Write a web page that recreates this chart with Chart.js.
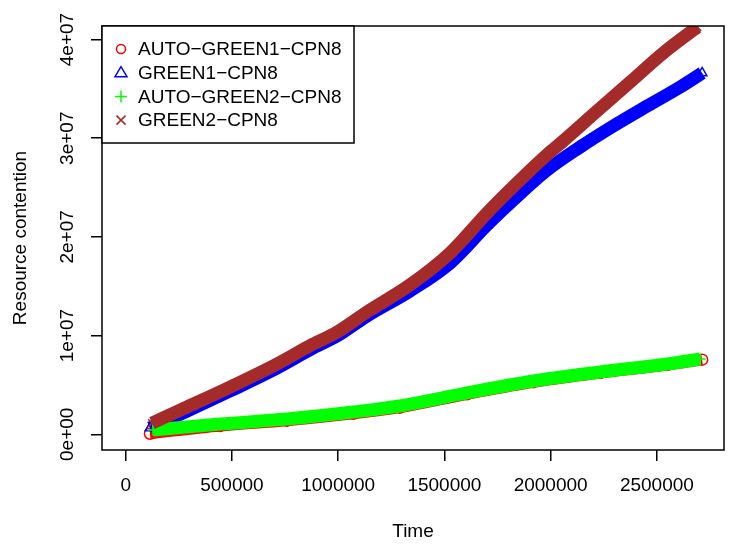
<!DOCTYPE html>
<html>
<head>
<meta charset="utf-8">
<script src="https://cdn.jsdelivr.net/npm/chart.js@4.4.1/dist/chart.umd.min.js"></script>
<style>
html, body { margin: 0; padding: 0; background: #fff; }
</style>
</head>
<body>
<canvas id="chart" width="733" height="547"></canvas>
<script>
// axis ticks
var xTickValues = [0, 500000, 1000000, 1500000, 2000000, 2500000];
var xTickLabels = ["0", "500000", "1000000", "1500000", "2000000", "2500000"];
var yTickValues = [0, 10000000, 20000000, 30000000, 40000000];
var yTickLabels = ["0e+00", "1e+07", "2e+07", "3e+07", "4e+07"];

// AUTO-GREEN1-CPN8 (red circles)
var auto1Time = [114000, 444000, 759000, 1070000, 1291000, 1607000, 1918000, 2233000, 2548000, 2713000];
var auto1Value = [60000, 840000, 1380000, 2080000, 2700000, 4050000, 5280000, 6200000, 7020000, 7560000];

// GREEN1-CPN8 (blue triangles)
var green1Time = [114000, 289000, 491000, 694000, 882000, 995000, 1136000, 1338000, 1527000, 1701000,
                  1824000, 1984000, 2139000, 2295000, 2455000, 2610000, 2713000];
var green1Value = [640000, 2360000, 4390000, 6510000, 8740000, 9960000, 11990000, 14520000, 17360000, 21210000,
                   23740000, 26780000, 29110000, 31240000, 33270000, 35190000, 36610000];

// AUTO-GREEN2-CPN8 (green pluses)
var auto2Time = [128000, 444000, 759000, 1070000, 1291000, 1607000, 1918000, 2233000, 2548000, 2704000];
var auto2Value = [440000, 1040000, 1550000, 2260000, 2870000, 4190000, 5400000, 6310000, 7120000, 7630000];

// GREEN2-CPN8 (brown crosses)
var green2Time = [124000, 289000, 491000, 694000, 882000, 995000, 1136000, 1338000, 1527000, 1701000,
                  1857000, 1998000, 2059000, 2219000, 2375000, 2530000, 2690000];
var green2Value = [1140000, 2770000, 4790000, 6920000, 9140000, 10360000, 12400000, 15140000, 18380000, 22430000,
                   25780000, 28610000, 29720000, 32760000, 35700000, 38640000, 41270000];

var FONT = '"Liberation Sans", Arial, Helvetica, sans-serif';

function makeSeries(label, xs, ys, color, style, width, order) {
    var pts = [];
    for (var i = 0; i < xs.length; i++) {
        pts.push({x: xs[i], y: ys[i]});
    }
    return {
        label: label,
        data: pts,
        showLine: true,
        cubicInterpolationMode: 'monotone',
        borderColor: color,
        borderWidth: width,
        borderCapStyle: 'butt',
        borderJoinStyle: 'round',
        pointStyle: style,
        pointRadius: 5.5,
        pointBorderWidth: 1.5,
        pointBorderColor: color,
        pointBackgroundColor: 'rgba(0,0,0,0)',
        order: order,
        clip: 0
    };
}

// box around plot + legend in the top left corner
var framePlugin = {
    id: 'frameAndLegend',
    afterDraw: function(chart) {
        var ctx = chart.ctx;
        var a = chart.chartArea;
        ctx.save();
        ctx.strokeStyle = '#000';
        ctx.lineWidth = 1.5;
        ctx.strokeRect(a.left, a.top, a.right - a.left, a.bottom - a.top);

        var bx = a.left, by = a.top, bw = 252, bh = 117;
        ctx.fillStyle = '#fff';
        ctx.fillRect(bx, by, bw, bh);
        ctx.strokeRect(bx, by, bw, bh);

        var sets = chart.data.datasets;
        ctx.font = '19px ' + FONT;
        ctx.textBaseline = 'middle';
        ctx.textAlign = 'left';
        for (var i = 0; i < sets.length; i++) {
            var cy = by + 23 + i * 23.7;
            var cx = bx + 19;
            var col = sets[i].borderColor;
            ctx.strokeStyle = col;
            ctx.lineWidth = 1.5;
            ctx.beginPath();
            if (sets[i].pointStyle === 'circle') {
                ctx.arc(cx, cy, 4.5, 0, Math.PI * 2);
            } else if (sets[i].pointStyle === 'triangle') {
                ctx.moveTo(cx, cy - 6);
                ctx.lineTo(cx - 6, cy + 4);
                ctx.lineTo(cx + 6, cy + 4);
                ctx.closePath();
            } else if (sets[i].pointStyle === 'cross') {
                ctx.moveTo(cx - 6, cy); ctx.lineTo(cx + 6, cy);
                ctx.moveTo(cx, cy - 6); ctx.lineTo(cx, cy + 6);
            } else {
                ctx.moveTo(cx - 4.5, cy - 4.5); ctx.lineTo(cx + 4.5, cy + 4.5);
                ctx.moveTo(cx - 4.5, cy + 4.5); ctx.lineTo(cx + 4.5, cy - 4.5);
            }
            ctx.stroke();
            ctx.fillStyle = '#000';
            ctx.fillText(sets[i].label, bx + 36, cy + 1);
        }
        ctx.restore();
    }
};

new Chart(document.getElementById('chart'), {
    type: 'scatter',
    data: {
        datasets: [
            makeSeries('AUTO\u2212GREEN1\u2212CPN8', auto1Time, auto1Value, '#FF0000', 'circle', 11, 3),
            makeSeries('GREEN1\u2212CPN8', green1Time, green1Value, '#0000FF', 'triangle', 13, 2),
            makeSeries('AUTO\u2212GREEN2\u2212CPN8', auto2Time, auto2Value, '#00FF00', 'cross', 13, 1),
            makeSeries('GREEN2\u2212CPN8', green2Time, green2Value, '#A52A2A', 'crossRot', 13, 0)
        ]
    },
    options: {
        responsive: false,
        animation: false,
        devicePixelRatio: 1,
        layout: { padding: { top: 26, right: 9, bottom: 0, left: 0 } },
        plugins: {
            legend: { display: false },
            tooltip: { enabled: false }
        },
        scales: {
            x: {
                type: 'linear',
                min: -111600,
                max: 2816000,
                afterBuildTicks: function(scale) {
                    scale.ticks = xTickValues.map(function(v) { return {value: v}; });
                },
                afterFit: function(scale) { scale.height = 97; },
                border: { display: false },
                grid: { drawOnChartArea: false, drawTicks: true, tickLength: 11, color: '#000', lineWidth: 1.5 },
                ticks: {
                    color: '#000',
                    font: { family: FONT, size: 19, lineHeight: 1.2 },
                    padding: 13.6,
                    maxRotation: 0,
                    autoSkip: false,
                    callback: function(value, index) { return xTickLabels[index]; }
                },
                title: {
                    display: true,
                    text: 'Time',
                    color: '#000',
                    font: { family: FONT, size: 19, lineHeight: 1.2 },
                    padding: { top: 0, bottom: 3.6 }
                }
            },
            y: {
                type: 'linear',
                min: -1590000,
                max: 41370000,
                afterBuildTicks: function(scale) {
                    scale.ticks = yTickValues.map(function(v) { return {value: v}; });
                },
                afterFit: function(scale) { scale.width = 102; },
                border: { display: false },
                grid: { drawOnChartArea: false, drawTicks: true, tickLength: 11, color: '#000', lineWidth: 1.5 },
                ticks: {
                    color: '#000',
                    font: { family: FONT, size: 19, lineHeight: 1.2 },
                    padding: -3,
                    minRotation: 90,
                    maxRotation: 90,
                    crossAlign: 'center',
                    autoSkip: false,
                    callback: function(value, index) { return yTickLabels[index]; }
                },
                title: {
                    display: true,
                    text: 'Resource contention',
                    color: '#000',
                    font: { family: FONT, size: 19, lineHeight: 1.2 },
                    padding: { top: 9, bottom: 0 }
                }
            }
        }
    },
    plugins: [framePlugin]
});
</script>
</body>
</html>
